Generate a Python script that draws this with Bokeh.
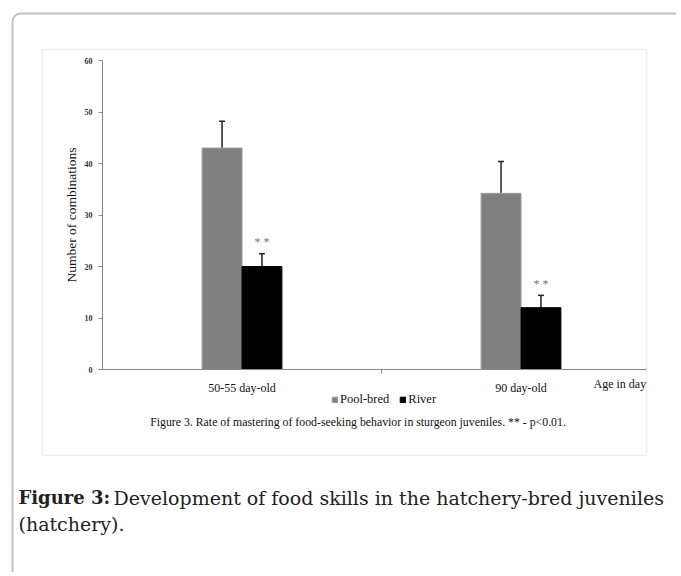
from bokeh.plotting import figure
from bokeh.models import (ColumnDataSource, Range1d, FixedTicker, Whisker, TeeHead,
                          Label, BoxAnnotation, Legend, LegendItem)
from bokeh.core.properties import value
from bokeh.embed import file_html
from bokeh.resources import INLINE

# ---------------- data ----------------
categories = ["50-55 day-old", "90 day-old"]
series_names = ["Pool-bred", "River"]
pool_bred = [43.0, 34.2]
pool_bred_err = [5.2, 6.2]
river = [20.0, 12.0]
river_err = [2.5, 2.4]
significance = ["* *", "* *"]
y_ticks = [0, 10, 20, 30, 40, 50, 60]
y_max = 60
x_axis_title = "Age in day"
y_axis_title = "Number of combinations"
chart_note = "Figure 3. Rate of mastering of food-seeking behavior in sturgeon juveniles.  ** - p<0.01."
caption_bold = "Figure 3:"
caption_rest = "Development of food skills in the hatchery-bred juveniles"
caption_line2 = "(hatchery)."

# ---------------- layout helpers (canvas px -> data) ----------------
W, H = 676, 572
X0, XPX = 102.0, 279.0
Y0, YPX = 369.0, 309.0 / 60.0


def dx(px):
    return (px - X0) / XPX


def dy(py):
    return (Y0 - py) / YPX


centers = [i + 0.5 for i in range(len(categories))]
bar_w = 0.143
x_end = dx(646)

src_pool = ColumnDataSource(dict(
    x=[c - bar_w / 2 for c in centers], top=pool_bred,
    upper=[v + e for v, e in zip(pool_bred, pool_bred_err)]))
src_river = ColumnDataSource(dict(
    x=[c + bar_w / 2 for c in centers], top=river,
    upper=[v + e for v, e in zip(river, river_err)],
    star_y=[v + e + 2.2 for v, e in zip(river, river_err)],
    star=significance))

p = figure(width=W, height=H, x_range=Range1d(dx(0), dx(W)), y_range=Range1d(dy(H), dy(0)),
           output_backend="svg", toolbar_location=None, min_border=0)
p.outline_line_color = None
p.xgrid.visible = False
p.ygrid.visible = False
p.background_fill_color = "white"
p.border_fill_color = "white"

# frames (drawn first)
p.add_layout(BoxAnnotation(left=dx(42), right=dx(646), top=dy(49), bottom=dy(455),
                           fill_alpha=0, line_color="#c8c8c8", line_width=1.5, level="underlay"))
p.add_layout(BoxAnnotation(left=dx(12), right=dx(W + 60), top=dy(13), bottom=dy(H + 60),
                           fill_alpha=0, line_color="#333333", line_width=2, border_radius=8,
                           level="underlay"))

r_pool = p.vbar(x="x", top="top", width=bar_w, bottom=0, source=src_pool,
                fill_color="#808080", line_color="#9a9a9a", line_width=1)
r_river = p.vbar(x="x", top="top", width=bar_w, bottom=0, source=src_river,
                 fill_color="#000000", line_color="#000000", line_width=1)

for src in (src_pool, src_river):
    p.add_layout(Whisker(source=src, base="x", lower="top", upper="upper", dimension="height",
                         line_color="#222222", line_width=1.5,
                         upper_head=TeeHead(size=6, line_color="#222222", line_width=1.5),
                         lower_head=None))

p.text(x="x", y="star_y", text="star", source=src_river, text_align="center",
       text_baseline="middle", text_font=value("Liberation Serif"),
       text_font_size=value("12px"), text_color="#777777")

# x axis
xa = p.xaxis[0]
xa.fixed_location = 0
xa.bounds = (0, x_end)
xa.ticker = FixedTicker(ticks=centers, minor_ticks=[1.0])
xa.major_label_overrides = {c: n for c, n in zip(centers, categories)}
xa.major_tick_out = 0
xa.major_tick_in = 0
xa.minor_tick_out = 4
xa.minor_tick_in = 0
xa.minor_tick_line_color = "#888888"
xa.axis_line_color = "#888888"
xa.major_label_standoff = 7
xa.major_label_text_font = "Liberation Serif"
xa.major_label_text_font_size = "12px"
xa.major_label_text_color = "#111111"

# y axis
ya = p.yaxis[0]
ya.fixed_location = 0
ya.bounds = (0, y_max)
ya.ticker = FixedTicker(ticks=y_ticks, minor_ticks=[])
ya.major_tick_out = 4
ya.major_tick_in = 0
ya.major_tick_line_color = "#888888"
ya.axis_line_color = "#888888"
ya.major_label_standoff = 6
ya.major_label_text_font = "Liberation Serif"
ya.major_label_text_font_style = "bold"
ya.major_label_text_font_size = "8px"
ya.major_label_text_color = "#333333"
ya.axis_label = y_axis_title
ya.axis_label_text_font = "Liberation Serif"
ya.axis_label_text_font_style = "normal"
ya.axis_label_text_font_size = "13.5px"
ya.axis_label_text_color = "#111111"
ya.axis_label_standoff = 3

legend = Legend(items=[LegendItem(label=series_names[0], renderers=[r_pool]),
                       LegendItem(label=series_names[1], renderers=[r_river])],
                location=(331, H - 393 - 14), orientation="horizontal",
                glyph_width=7, glyph_height=7,
                label_text_font="Liberation Serif", label_text_font_size="12.5px",
                label_text_color="#111111", label_height=14, label_standoff=2,
                padding=0, spacing=10, margin=0, border_line_color=None,
                background_fill_alpha=0)
p.add_layout(legend)

p.add_layout(Label(x=dx(593), y=dy(383), text=x_axis_title, text_baseline="middle",
                   text_font="Liberation Serif", text_font_size="12px", text_color="#111111"))
p.add_layout(Label(x=dx(359), y=dy(421), text=chart_note, text_align="center",
                   text_baseline="middle", text_font="Liberation Serif",
                   text_font_size="11.8px", text_color="#111111"))

# outer caption
p.add_layout(Label(x=dx(18), y=dy(497), text=caption_bold, text_baseline="middle",
                   text_font="DejaVu Serif", text_font_style="bold", text_font_size="18px",
                   text_color="#222222"))
p.add_layout(Label(x=dx(113), y=dy(497), text=caption_rest, text_baseline="middle",
                   text_font="DejaVu Serif", text_font_size="19px", text_color="#222222"))
p.add_layout(Label(x=dx(18), y=dy(523), text=caption_line2, text_baseline="middle",
                   text_font="DejaVu Serif", text_font_size="19px", text_color="#222222"))

open("out.html", "w").write(file_html(p, INLINE))
